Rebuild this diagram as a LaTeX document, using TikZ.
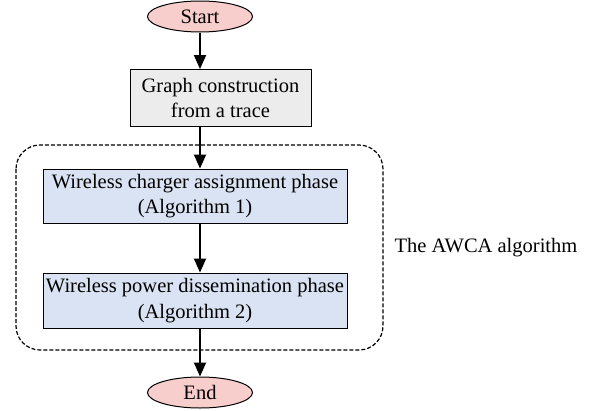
\documentclass[tikz,border=0pt]{standalone}
\usepackage{fontspec}
\setmainfont{Liberation Serif}
\usetikzlibrary{shapes.geometric,arrows.meta}
\definecolor{termfill}{RGB}{248,206,204}
\definecolor{prepfill}{RGB}{236,236,236}
\definecolor{phasefill}{RGB}{218,227,243}
\begin{document}
\begin{tikzpicture}[x=1pt,y=-1pt,
  txt/.style={font=\fontsize{20.5}{25.5}\selectfont},
  terminal/.style={txt,ellipse,draw,line width=1pt,fill=termfill,minimum width=105pt,minimum height=31pt,inner sep=0pt},
  procbox/.style={txt,draw,line width=1pt,align=center,inner sep=0pt},
  flow/.style={line width=2pt,-{Triangle[length=14pt,width=12pt]}},
  group/.style={draw,line width=1.2pt,dash pattern=on 4pt off 2pt,rounded corners=24pt}]
\useasboundingbox (0,0) rectangle (592,410);
% terminals
\node[terminal] (start) at (200,16.5) {Start};
\node[terminal] (end) at (200,392.5) {End};
% process boxes
\node[procbox,fill=prepfill,minimum width=181pt,minimum height=57pt] (graph) at (220.5,98) {Graph construction\\from a trace};
\node[procbox,fill=phasefill,minimum width=304pt,minimum height=54pt] (assign) at (195,196) {Wireless charger assignment phase\\(Algorithm 1)};
\node[procbox,fill=phasefill,minimum width=304pt,minimum height=55pt] (dissem) at (195,300.5) {Wireless power dissemination phase\\(Algorithm 2)};
% dashed group around the two phases
\draw[group] (16,145) rectangle (383,350);
\node[txt,anchor=west] (awca) at (391,247.5) {The AWCA algorithm};
% connectors
\draw[flow] (start) -- (start |- graph.north);
\draw[flow] (graph.south -| start) -- (assign.north -| start);
\draw[flow] (assign.south -| start) -- (dissem.north -| start);
\draw[flow] (dissem.south -| start) -- (end);
\end{tikzpicture}
\end{document}
